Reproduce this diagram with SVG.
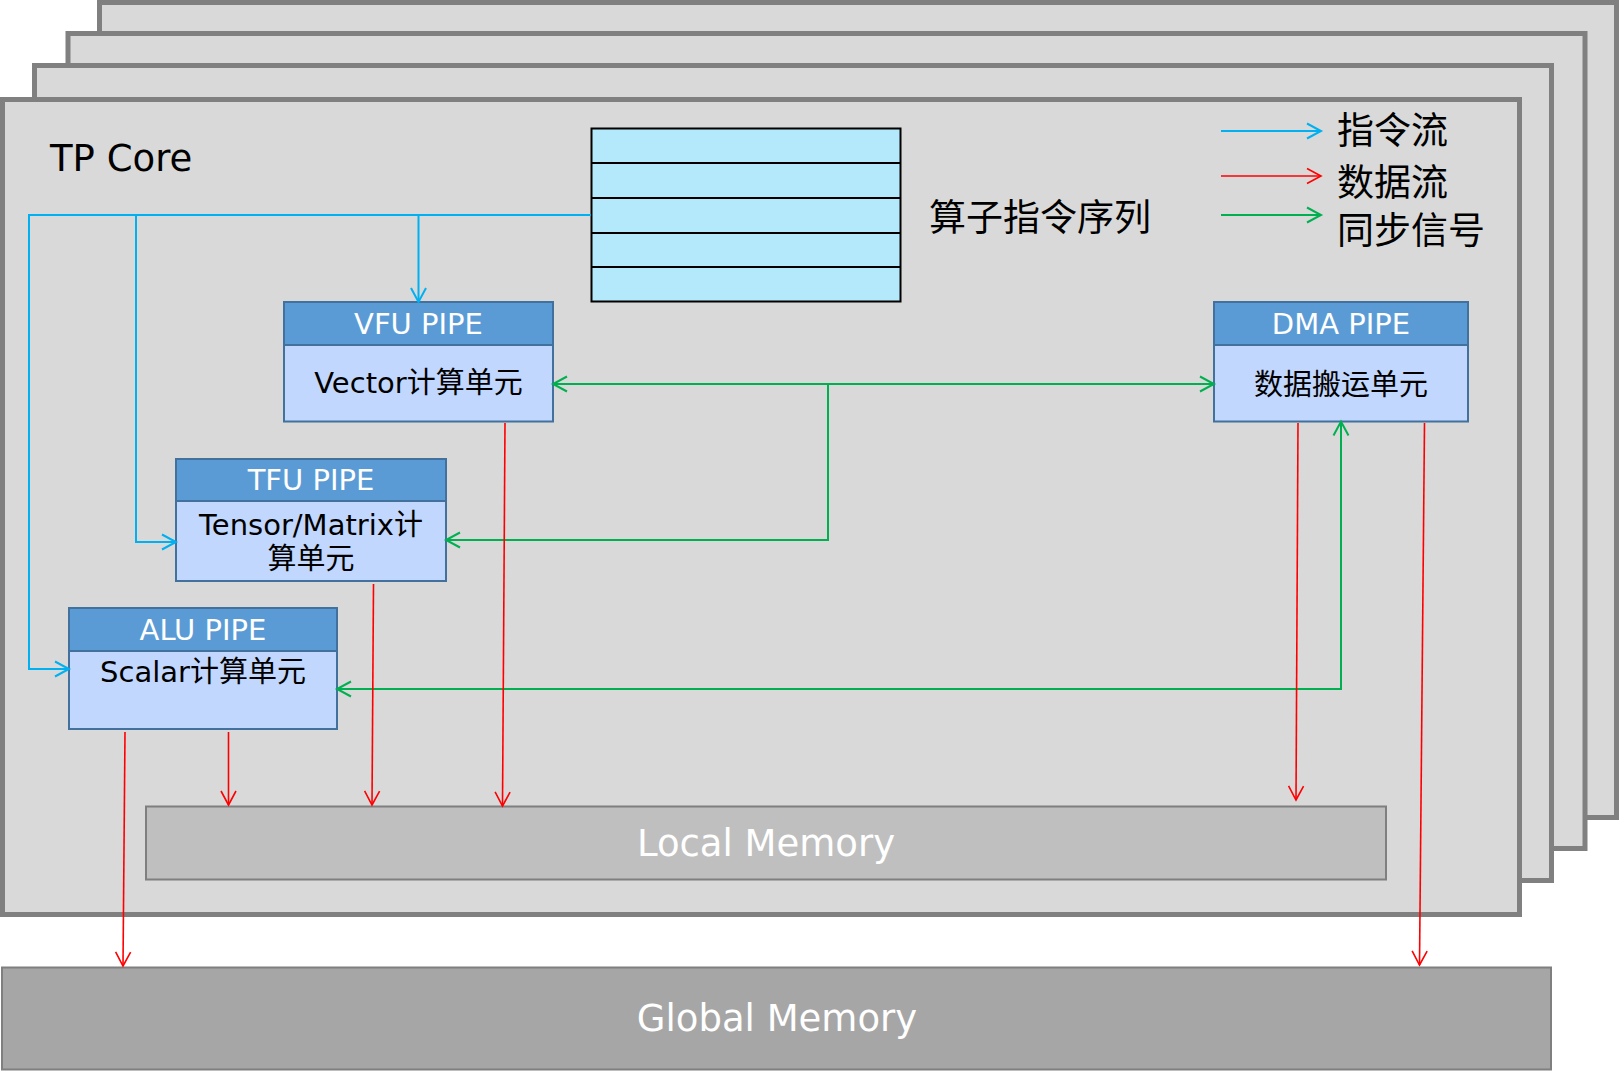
<svg xmlns="http://www.w3.org/2000/svg" width="1619" height="1071" viewBox="0 0 1619 1071">
<style>
text{font-family:"DejaVu Sans","Noto Sans CJK SC",sans-serif;}
.panel{fill:#D9D9D9;stroke:#808080;stroke-width:5;}
.hdr{fill:#5B9BD5;stroke:#41719C;stroke-width:2;}
.body{fill:#C2D7FD;stroke:#41719C;stroke-width:2;}
.hdrt{fill:#fff;font-size:29px;text-anchor:middle;}
.bt{fill:#000;font-size:29px;text-anchor:middle;}
.big{fill:#000;font-size:37px;}
.mem{fill:#fff;font-size:37px;text-anchor:middle;}
.b{stroke:#00B0F0;stroke-width:2;fill:none;}
.r{stroke:#FF0000;stroke-width:1.6;fill:none;}
.g{stroke:#00B050;stroke-width:2;fill:none;}
</style>
<defs>
<marker id="ab" markerUnits="userSpaceOnUse" markerWidth="20" markerHeight="20" refX="16" refY="9" orient="auto-start-reverse" viewBox="0 0 20 18"><path d="M2,1.5 L16,9 L2,16.5" fill="none" stroke="#00B0F0" stroke-width="2"/></marker>
<marker id="ar" markerUnits="userSpaceOnUse" markerWidth="20" markerHeight="20" refX="16" refY="9" orient="auto-start-reverse" viewBox="0 0 20 18"><path d="M2,1.5 L16,9 L2,16.5" fill="none" stroke="#FF0000" stroke-width="1.6"/></marker>
<marker id="ag" markerUnits="userSpaceOnUse" markerWidth="20" markerHeight="20" refX="16" refY="9" orient="auto-start-reverse" viewBox="0 0 20 18"><path d="M2,1.5 L16,9 L2,16.5" fill="none" stroke="#00B050" stroke-width="2"/></marker>
</defs>

<g id="panels">
<rect class="panel" x="99.5" y="2.5" width="1517" height="815"/>
<rect class="panel" x="68" y="33.5" width="1517" height="815"/>
<rect class="panel" x="34.5" y="65.5" width="1517" height="815"/>
<rect class="panel" x="2.5" y="99.5" width="1517" height="815"/>
</g>

<g id="title"><text class="big" x="50" y="171">TP Core</text></g>

<g id="instr-queue">
<rect x="591.5" y="128.5" width="309" height="173" fill="#B4E8FB" stroke="#000" stroke-width="2"/>
<path d="M591.5,163 H900.5 M591.5,198 H900.5 M591.5,233 H900.5 M591.5,267 H900.5" stroke="#000" stroke-width="2"/>
<text class="big" x="929" y="231">算子指令序列</text>
</g>

<g id="legend">
<line class="b" x1="1221" y1="131" x2="1321" y2="131" marker-end="url(#ab)"/>
<line class="r" x1="1221" y1="176" x2="1321" y2="176" marker-end="url(#ar)"/>
<line class="g" x1="1221" y1="215" x2="1321" y2="215" marker-end="url(#ag)"/>
<text class="big" x="1337" y="144">指令流</text>
<text class="big" x="1337" y="196">数据流</text>
<text class="big" x="1337" y="244">同步信号</text>
</g>

<g id="vfu">
<rect class="body" x="284" y="345" width="269" height="76.5"/>
<rect class="hdr" x="284" y="302" width="269" height="43"/>
<text class="hdrt" x="418.5" y="334">VFU PIPE</text>
<text class="bt" x="418.5" y="393">Vector计算单元</text>
</g>

<g id="tfu">
<rect class="body" x="176" y="501" width="270" height="80"/>
<rect class="hdr" x="176" y="459" width="270" height="42"/>
<text class="hdrt" x="311" y="490">TFU PIPE</text>
<text class="bt" x="311" y="535">Tensor/Matrix计</text>
<text class="bt" x="311" y="569">算单元</text>
</g>

<g id="alu">
<rect class="body" x="69" y="651" width="268" height="78"/>
<rect class="hdr" x="69" y="608" width="268" height="43"/>
<text class="hdrt" x="203" y="639.5">ALU PIPE</text>
<text class="bt" x="203" y="681.5">Scalar计算单元</text>
</g>

<g id="dma">
<rect class="body" x="1214" y="345" width="254" height="76.5"/>
<rect class="hdr" x="1214" y="302" width="254" height="43"/>
<text class="hdrt" x="1341" y="334">DMA PIPE</text>
<text class="bt" x="1341" y="394.5">数据搬运单元</text>
</g>

<g id="local-memory">
<rect x="146" y="806.5" width="1240" height="73" fill="#BFBFBF" stroke="#7F7F7F" stroke-width="2"/>
<text class="mem" x="766" y="856">Local Memory</text>
</g>

<g id="global-memory">
<rect x="2" y="967.5" width="1549" height="102" fill="#A6A6A6" stroke="#7F7F7F" stroke-width="2"/>
<text class="mem" x="777" y="1031">Global Memory</text>
</g>

<g id="connectors">
<path class="b" d="M591,215 H29 V669 H69" marker-end="url(#ab)"/>
<path class="b" d="M136,215 V542 H176" marker-end="url(#ab)"/>
<path class="b" d="M418.5,215 V302" marker-end="url(#ab)"/>

<path class="g" d="M553,384 H1214" marker-start="url(#ag)" marker-end="url(#ag)"/>
<path class="g" d="M828,384 V540 H446" marker-end="url(#ag)"/>
<path class="g" d="M337,689 H1341 V421.5" marker-start="url(#ag)" marker-end="url(#ag)"/>

<line class="r" x1="505" y1="423" x2="502.5" y2="806" marker-end="url(#ar)"/>
<line class="r" x1="373.5" y1="584" x2="372" y2="805" marker-end="url(#ar)"/>
<line class="r" x1="228.5" y1="732" x2="228.5" y2="805" marker-end="url(#ar)"/>
<line class="r" x1="125" y1="732" x2="123" y2="966" marker-end="url(#ar)"/>
<line class="r" x1="1298" y1="423" x2="1296" y2="800" marker-end="url(#ar)"/>
<line class="r" x1="1424.5" y1="423" x2="1419.5" y2="965" marker-end="url(#ar)"/>
</g>
</svg>
